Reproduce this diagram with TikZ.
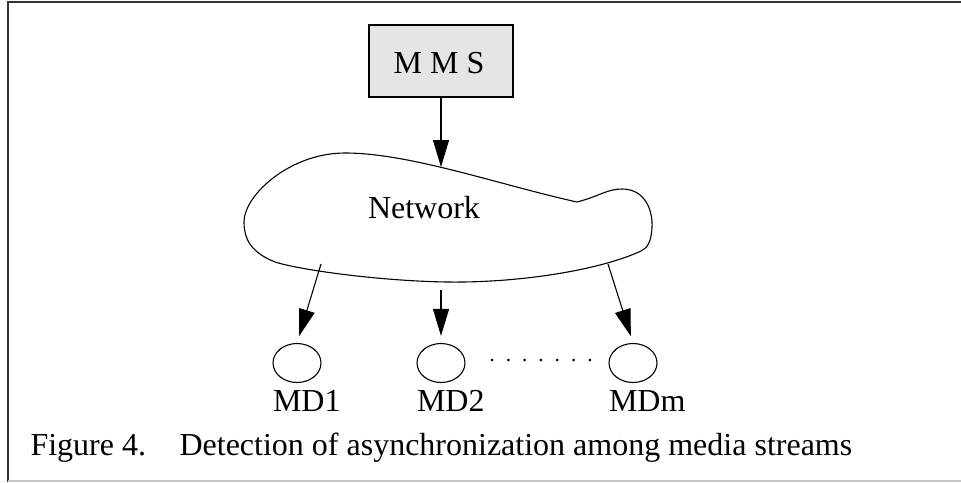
\documentclass[tikz,border=0pt]{standalone}
\usepackage{fontspec}
\setmainfont{Liberation Serif}
\usetikzlibrary{arrows.meta,shapes.geometric}
\begin{document}
\begin{tikzpicture}[x=1pt,y=-1pt, line width=1.1pt,
  lbl/.style={font=\fontsize{32}{36}\selectfont, inner sep=0pt},
  arr/.style={-{Triangle[length=27pt,width=16pt]}},
  md/.style={draw, ellipse, minimum width=48pt, minimum height=39pt, inner sep=0pt},
  frame/.style={line width=2pt, draw=black!80},
  lightframe/.style={line width=2pt, draw=black!22}]
\useasboundingbox (0,0) rectangle (961,482);
% frame
\draw[frame] (8,482) -- (8,2) -- (961,2);
\draw[lightframe] (8,481) -- (961,481);
% MMS box
\node[draw, fill=black!10, minimum width=144pt, minimum height=72pt, inner sep=0pt] (mms) at (441,61) {};
\node[lbl, anchor=base] (mmst) at (439,73) {M M S};
% cloud
\draw (577,202) .. controls (600,196) and (607,189) .. (622,189)
  .. controls (645,189) and (653,210) .. (652,228)
  .. controls (651,243) and (647,248) .. (641,251)
  .. controls (600,270) and (520,283) .. (447,282)
  .. controls (380,281) and (300,270) .. (275,262)
  .. controls (250,252) and (244,238) .. (244,222)
  .. controls (244,195) and (290,153) .. (345,153)
  .. controls (410,153) and (500,185) .. (577,202) -- cycle;
\node[lbl, anchor=base] (net) at (424,218) {Network};
\coordinate (ctop) at (441,167);
\coordinate (c1) at (321,264);
\coordinate (c2) at (441,290);
\coordinate (c3) at (608,264);
% devices
\node[md] (md1) at (297,363) {};
\node[md] (md2) at (441,363) {};
\node[md] (mdm) at (633,363) {};
\node[lbl, anchor=base west] (l1) at (md1.west |- 0,411) {MD1};
\node[lbl, anchor=base west] (l2) at (md2.west |- 0,411) {MD2};
\node[lbl, anchor=base west] (lm) at (mdm.west |- 0,411) {MDm};
\foreach \i in {0,...,6} \fill (492+16.3*\i,360) circle (1.5pt);
% arrows
\draw[arr] (mms.south) -- (ctop);
\draw[arr, shorten >=7pt] (c1) -- (md1.north);
\draw[arr, shorten >=7pt] (c2) -- (md2.north);
\draw[arr, shorten >=7pt] (c3) -- (mdm.north);
% caption
\node[lbl, anchor=base west] (fig) at (30,455) {Figure 4.};
\node[lbl, anchor=base west] (cap) at (179,455) {Detection of asynchronization among media streams};
\end{tikzpicture}
\end{document}
